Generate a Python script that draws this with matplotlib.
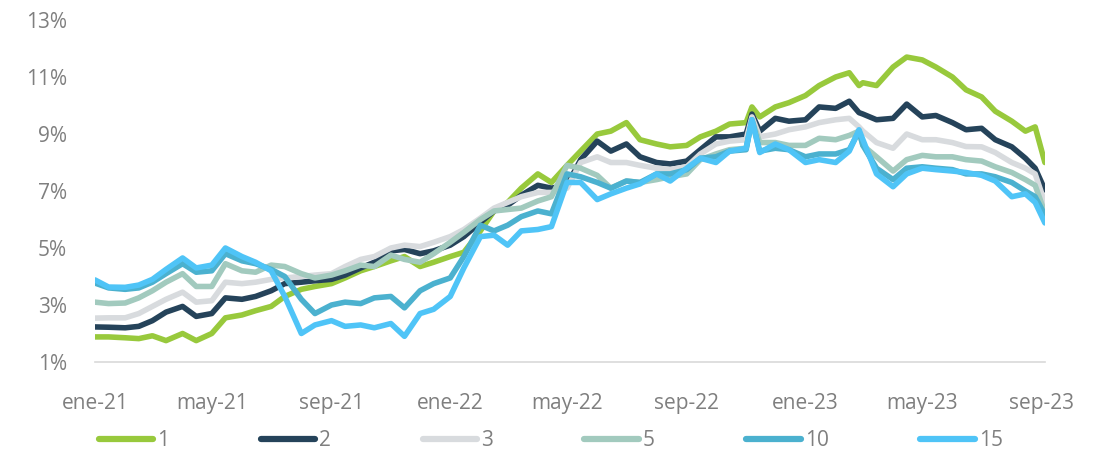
import matplotlib
matplotlib.use("Agg")
import matplotlib.pyplot as plt
from matplotlib.transforms import Bbox
import pandas as pd

plt.rcParams['font.family'] = ['Open Sans', 'DejaVu Sans']

# fechas (quincenal + algunos puntos extra)
dates = [
    "2021-01-01", "2021-01-15", "2021-02-01", "2021-02-15", "2021-03-01", "2021-03-15",
    "2021-04-01", "2021-04-15", "2021-05-01", "2021-05-15", "2021-06-01", "2021-06-15",
    "2021-07-01", "2021-07-15", "2021-08-01", "2021-08-15", "2021-09-01", "2021-09-15",
    "2021-10-01", "2021-10-15", "2021-11-01", "2021-11-15", "2021-12-01", "2021-12-15",
    "2022-01-01", "2022-01-15", "2022-02-01", "2022-02-15", "2022-03-01", "2022-03-15",
    "2022-04-01", "2022-04-15", "2022-05-01", "2022-05-15", "2022-06-01", "2022-06-15",
    "2022-07-01", "2022-07-15", "2022-08-01", "2022-08-15", "2022-09-01", "2022-09-15",
    "2022-10-01", "2022-10-15", "2022-11-01", "2022-11-07", "2022-11-15", "2022-12-01",
    "2022-12-15",
    "2023-01-01", "2023-01-15", "2023-02-01", "2023-02-15", "2023-02-25", "2023-03-01",
    "2023-03-15", "2023-04-01", "2023-04-15", "2023-05-01", "2023-05-15", "2023-06-01",
    "2023-06-15", "2023-07-01", "2023-07-15", "2023-08-01", "2023-08-15", "2023-08-25",
    "2023-09-04",
]

y1 = [1.88, 1.88, 1.85, 1.82, 1.92, 1.75, 2.0, 1.75, 2.0, 2.55, 2.65, 2.8, 2.95, 3.3, 3.55, 3.65,
      3.75, 3.95, 4.2, 4.35, 4.55, 4.7, 4.35, 4.5,
      4.7, 4.85, 5.6, 6.3, 6.6, 7.1, 7.6, 7.3, 7.9, 8.4, 9.0, 9.1, 9.4, 8.8, 8.65, 8.55, 8.6, 8.9,
      9.1, 9.35, 9.4, 9.95, 9.6, 9.95, 10.1,
      10.35, 10.7, 11.0, 11.15, 10.7, 10.8, 10.7, 11.35, 11.7, 11.6, 11.35, 11.0, 10.55, 10.3, 9.8,
      9.45, 9.1, 9.25, 8.0]
y2 = [2.23, 2.22, 2.2, 2.25, 2.45, 2.75, 2.95, 2.6, 2.7, 3.25, 3.2, 3.3, 3.5, 3.75, 3.8, 3.85,
      3.9, 4.05, 4.3, 4.5, 4.9, 4.95, 4.8, 4.9,
      5.1, 5.4, 5.9, 6.3, 6.5, 6.85, 7.2, 7.1, 7.2, 8.1, 8.75, 8.4, 8.65, 8.2, 8.0, 7.95, 8.05, 8.45,
      8.9, 8.9, 9.0, 9.7, 9.1, 9.55, 9.45,
      9.5, 9.95, 9.9, 10.15, 9.75, 9.7, 9.5, 9.55, 10.05, 9.6, 9.65, 9.4, 9.15, 9.2, 8.8,
      8.55, 8.15, 7.8, 7.04]
y3 = [2.54, 2.55, 2.55, 2.7, 2.95, 3.2, 3.45, 3.1, 3.15, 3.8, 3.75, 3.8, 3.9, 3.95, 4.0, 4.05,
      4.1, 4.35, 4.6, 4.7, 5.0, 5.1, 5.05, 5.2,
      5.4, 5.65, 6.05, 6.4, 6.6, 6.8, 6.95, 6.95, 7.1, 8.0, 8.2, 8.0, 8.0, 7.9, 7.8, 7.75, 7.85, 8.3,
      8.65, 8.75, 8.8, 9.6, 8.9, 9.0, 9.15,
      9.25, 9.4, 9.5, 9.55, 9.25, 9.1, 8.7, 8.5, 9.0, 8.8, 8.8, 8.7, 8.56, 8.55, 8.35,
      8.0, 7.8, 7.6, 6.58]
y5 = [3.1, 3.05, 3.07, 3.25, 3.5, 3.8, 4.1, 3.65, 3.65, 4.45, 4.2, 4.15, 4.4, 4.35, 4.1, 3.95,
      4.05, 4.2, 4.4, 4.35, 4.75, 4.6, 4.5, 4.8,
      5.2, 5.55, 6.0, 6.3, 6.35, 6.4, 6.65, 6.8, 7.9, 7.8, 7.55, 7.1, 7.35, 7.3, 7.4, 7.5, 7.6, 8.1,
      8.3, 8.45, 8.5, 9.5, 8.7, 8.7, 8.6,
      8.6, 8.85, 8.8, 8.95, 9.1, 8.6, 8.2, 7.7, 8.1, 8.25, 8.2, 8.2, 8.1, 8.05, 7.85,
      7.65, 7.4, 7.2, 6.23]
y10 = [3.77, 3.6, 3.55, 3.6, 3.8, 4.1, 4.45, 4.15, 4.2, 4.8, 4.55, 4.45, 4.25, 4.0, 3.2, 2.7,
       3.0, 3.1, 3.05, 3.25, 3.3, 2.9, 3.5, 3.75,
       3.95, 4.7, 5.8, 5.6, 5.8, 6.1, 6.3, 6.2, 7.6, 7.5, 7.3, 7.1, 7.35, 7.3, 7.6, 7.6, 7.75, 8.15,
       8.2, 8.4, 8.45, 9.5, 8.4, 8.5, 8.45,
       8.2, 8.3, 8.3, 8.45, 9.1, 8.6, 7.8, 7.4, 7.8, 7.85, 7.8, 7.75, 7.6, 7.6, 7.5,
       7.3, 7.0, 6.8, 6.16]
y15 = [3.88, 3.63, 3.62, 3.7, 3.9, 4.25, 4.65, 4.3, 4.4, 5.0, 4.7, 4.5, 4.2, 3.3, 2.0, 2.3,
       2.45, 2.25, 2.3, 2.2, 2.35, 1.9, 2.7, 2.85,
       3.3, 4.3, 5.4, 5.45, 5.1, 5.6, 5.65, 5.75, 7.3, 7.3, 6.7, 6.9, 7.1, 7.25, 7.6, 7.35, 7.8, 8.15,
       8.0, 8.4, 8.5, 9.5, 8.35, 8.65, 8.45,
       8.0, 8.1, 8.0, 8.4, 9.15, 8.8, 7.6, 7.15, 7.6, 7.8, 7.75, 7.7, 7.65, 7.55, 7.35,
       6.8, 6.9, 6.6, 5.88]

labels = ["1", "2", "3", "5", "10", "15"]
colors = ["#98c93c", "#25435a", "#d8dbde", "#a2cabe", "#4bb1cf", "#4fc4f7"]

x = pd.to_datetime(dates)
series = [y1, y2, y3, y5, y10, y15]

fig = plt.figure(figsize=(11.11, 4.53), dpi=100)
ax = fig.add_axes([0.0855, 0.2009, 0.855, 0.7549])

for ys, lab, col in zip(series, labels, colors):
    ax.plot(x, ys, color=col, lw=4, label=lab,
            solid_capstyle='round', solid_joinstyle='round')

ax.set_ylim(1, 13)
ax.set_yticks([1, 3, 5, 7, 9, 11, 13])
ax.set_yticklabels([f"{v}%" for v in [1, 3, 5, 7, 9, 11, 13]])
ax.set_xlim(pd.Timestamp("2021-01-01"), pd.Timestamp("2023-09-04"))
ticks = pd.to_datetime(["2021-01-01", "2021-05-01", "2021-09-01", "2022-01-01", "2022-05-01",
                        "2022-09-01", "2023-01-01", "2023-05-01", "2023-09-01"])
ax.set_xticks(ticks)
ax.set_xticklabels(["ene-21", "may-21", "sep-21", "ene-22", "may-22",
                    "sep-22", "ene-23", "may-23", "sep-23"])

for s in ["top", "right", "left"]:
    ax.spines[s].set_visible(False)
ax.spines["bottom"].set_color("#d9d9d9")
ax.spines["bottom"].set_linewidth(1.2)
ax.tick_params(axis="both", length=0, labelsize=15, labelcolor="#7f7f7f")
ax.tick_params(axis="x", pad=22)
ax.tick_params(axis="y", pad=20)

fig.canvas.draw()
clip = Bbox([[0, 0], [1082, 453]])
for t in ax.get_xticklabels():
    t.set_clip_on(True)
    t.set_clip_box(clip)

leg = fig.legend(loc="center left", bbox_to_anchor=(0.072, 0.027), ncol=6, frameon=False,
                 fontsize=15, handlelength=2.6, handletextpad=0.2, columnspacing=4.4,
                 labelcolor="#7f7f7f")
for h in leg.get_lines():
    h.set_linewidth(4.5)

fig.savefig("out.png", dpi=100)
